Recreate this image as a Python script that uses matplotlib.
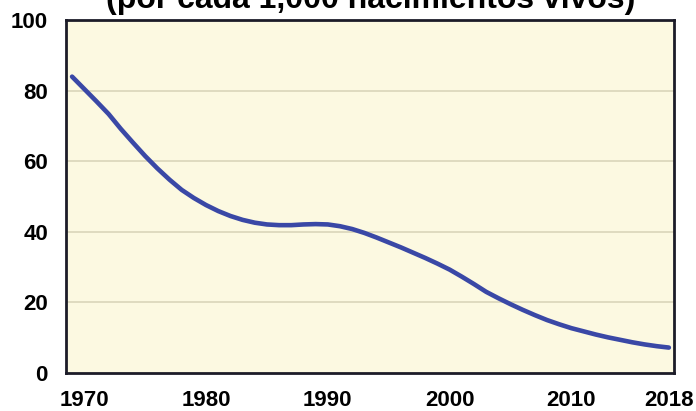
import matplotlib
matplotlib.use("Agg")
from matplotlib import pyplot as plt

years = list(range(1969, 2019))
mortality = [84.0, 80.5, 77.0, 73.4, 69.2, 65.3, 61.5, 58.0, 54.8, 51.9,
             49.6, 47.6, 45.9, 44.5, 43.4, 42.6, 42.1, 41.9, 41.9, 42.1,
             42.2, 42.1, 41.6, 40.8, 39.7, 38.4, 37.0, 35.6, 34.1, 32.6,
             31.0, 29.3, 27.3, 25.2, 23.0, 21.2, 19.5, 17.9, 16.4, 15.0,
             13.8, 12.7, 11.8, 10.9, 10.1, 9.4, 8.7, 8.1, 7.6, 7.2]
xticks = [1970, 1980, 1990, 2000, 2010, 2018]
yticks = [0, 20, 40, 60, 80, 100]

plt.rcParams["font.family"] = ["Liberation Sans", "DejaVu Sans"]

fig = plt.figure(figsize=(6.96, 4.11), dpi=100)
ax = fig.add_axes([0.0948, 0.0925, 0.8732, 0.8584])
ax.set_facecolor("#fcf9e1")

# Trend line
ax.plot(years, mortality, color="#3a48a6", linewidth=3.3,
        solid_capstyle="round", solid_joinstyle="round", zorder=3)

ax.set_xlim(1968.5, 2018.4)
ax.set_ylim(0, 100)
ax.set_xticks(xticks)
ax.set_yticks(yticks)
ax.tick_params(length=0, labelsize=16)
ax.tick_params(axis="y", pad=13)
ax.tick_params(axis="x", pad=12)
for lab in ax.get_xticklabels() + ax.get_yticklabels():
    lab.set_fontweight("bold")

# Horizontal grid lines
for v in yticks[1:-1]:
    ax.axhline(v, color="#dcd8bd", linewidth=1.3, zorder=1)

for s in ax.spines.values():
    s.set_color("#1c1c28")
    s.set_linewidth(2.0)

# Title, partly cut off at the top of the image (as in the source)
fig.text(0.533, 0.980, "(por cada 1,000 nacimientos vivos)", ha="center",
         va="baseline", fontsize=23, fontweight="bold")

plt.savefig("out.png", dpi=100)
